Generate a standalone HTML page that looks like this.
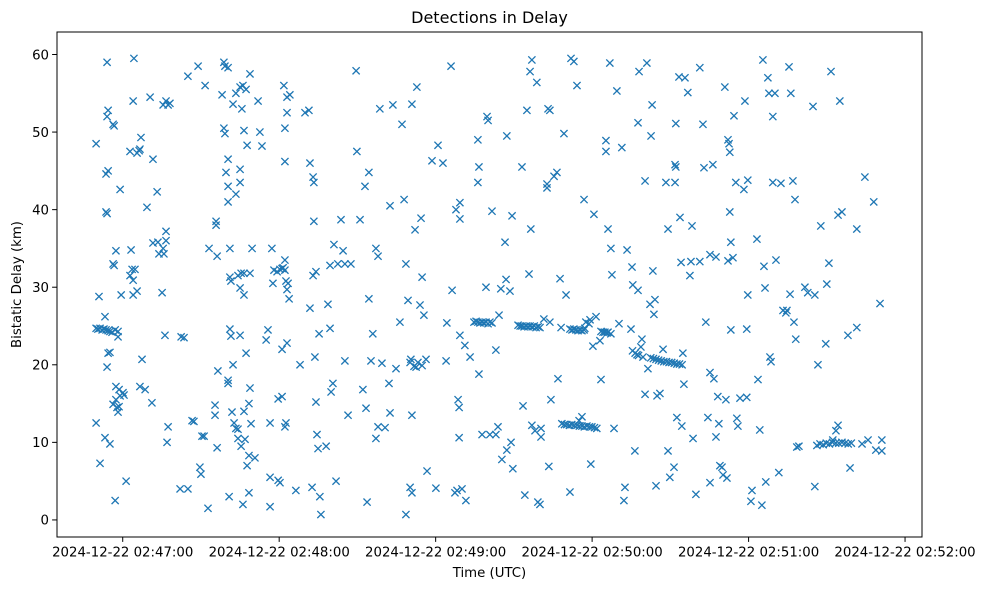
<!DOCTYPE html>
<html><head><meta charset="utf-8">
<style>
html,body{margin:0;padding:0;background:#fff;}
svg text{font-family:"DejaVu Sans","Liberation Sans",sans-serif;fill:#000;}
</style></head>
<body>
<svg id="chart" width="988" height="590" viewBox="0 0 988 590" xmlns="http://www.w3.org/2000/svg">
<rect width="988" height="590" fill="#fff"/>
<text x="489.5" y="23" font-size="16" text-anchor="middle">Detections in Delay</text>
<text x="489.5" y="577" font-size="13.3" text-anchor="middle">Time (UTC)</text>
<text x="21" y="284.5" font-size="13.3" text-anchor="middle" transform="rotate(-90 21 284.5)">Bistatic Delay (km)</text>
<g id="marks"></g>
<g id="axes"></g>
<rect x="57" y="32" width="865" height="505" fill="none" stroke="#000" stroke-width="1"/>
</svg>
<script>
// time in seconds after 2024-12-22 02:46:00 UTC
const timesSec = [
49.8,50.9,51.3,49.8,54.0,54.0,54.4,53.6,54.4,53.6,54.0,53.2,53.2,54.4,55.1,54.0,55.1,55.9,56.3,56.7,56.3,56.7,57.4,57.1,56.3,57.1,58.2,58.2,57.4,57.4,57.8,58.2,59.0,59.4,60.1,60.5,61.3,59.0,58.6,58.6,
49.8,50.5,51.3,52.1,52.8,53.6,54.4,55.1,
62.8,64.0,64.3,62.8,63.2,64.0,64.0,64.7,63.6,65.5,66.3,67.0,66.6,65.5,66.6,67.4,68.6,69.3,70.5,71.6,71.6,71.2,73.2,73.5,73.9,75.1,75.5,75.8,76.6,76.6,75.5,76.6,77.4,78.1,76.2,77.4,77.0,
82.0,82.4,83.5,85.0,85.0,86.6,87.3,88.9,89.6,90.4,91.2,90.0,91.6,92.7,93.1,95.4,95.4,95.8,95.8,96.2,96.5,96.2,98.1,98.8,99.2,100.4,98.8,99.2,100.4,100.4,100.8,100.4,99.6,100.4,100.4,101.1,101.5,101.1,101.1,101.5,102.3,101.9,103.4,104.2,102.7,
102.3,103.4,105.0,106.1,107.3,108.8,105.7,106.5,107.7,103.4,105.0,105.0,104.2,105.4,106.5,105.0,106.5,108.8,109.6,105.0,107.3,108.8,108.4,109.2,106.5,104.2,105.4,106.9,108.4,107.7,106.1,108.4,110.7,111.9,112.6,113.4,115.0,115.7,116.5,116.5,117.2,117.6,119.2,118.0,120.3,121.1,122.2,121.5,116.5,119.6,120.3,119.6,121.1,122.6,122.2,121.1,123.0,123.0,123.8,121.8,123.0,124.1,122.2,123.0,122.2,122.2,122.6,123.4,
126.4,128.0,129.9,131.4,131.8,133.0,133.3,131.8,133.0,134.1,133.3,132.6,133.7,134.1,134.5,136.0,135.6,135.3,134.9,138.0,138.7,139.5,139.5,141.0,139.9,140.6,141.8,142.5,144.5,145.2,143.7,145.2,146.4,147.5,149.5,149.8,151.0,152.1,152.9,153.3,153.7,154.4,154.4,155.2,155.9,157.1,157.1,157.9,157.9,158.6,159.4,160.6,162.1,162.5,162.5,163.6,164.8,166.3,167.1,167.9,168.6,168.6,169.4,170.2,170.5,170.9,170.9,170.2,170.9,171.7,172.8,172.1,172.5,173.2,174.0,174.4,174.8,174.8,175.5,176.3,176.7,178.6,180.1,180.9,182.8,184.0,184.3,
185.9,186.3,187.4,188.2,187.8,189.3,189.3,188.6,189.0,189.0,189.3,190.1,191.2,191.6,193.2,196.2,196.6,196.2,196.6,197.8,199.7,200.1,199.3,200.8,201.6,203.1,203.1,203.9,204.3,205.0,205.4,206.6,207.0,207.3,207.3,208.5,209.3,208.9,209.6,213.1,213.5,214.2,215.0,215.8,216.2,216.9,216.5,216.9,218.1,218.8,219.2,220.0,220.4,220.4,221.5,222.7,222.7,223.1,223.4,223.8,223.8,224.2,225.4,226.5,226.9,227.7,228.1,229.2,230.0,231.5,231.9,233.0,234.2,235.0,236.1,236.9,237.6,237.2,238.8,239.2,239.5,240.3,240.7,241.5,243.0,243.4,244.9,245.3,245.3,246.1,246.1,246.8,247.6,248.4,247.2,249.5,250.3,251.4,252.2,252.6,253.4,254.9,255.3,255.6,256.4,257.2,257.6,257.6,258.0,258.7,259.1,260.3,260.3,261.0,261.4,262.2,262.6,263.0,263.3,263.7,264.1,264.5,264.9,266.0,267.2,268.3,269.1,269.1,269.8,271.4,271.8,271.8,272.1,272.1,272.5,273.3,273.7,274.1,274.4,274.8,275.2,275.6,276.7,277.5,277.9,278.3,278.7,279.8,281.3,281.3,282.5,282.9,283.6,284.4,285.2,285.2,285.2,286.3,286.7,287.5,287.5,288.2,288.6,289.0,289.8,291.3,290.2,291.7,290.9,292.1,292.5,292.8,292.8,293.2,292.1,294.0,293.2,294.4,295.1,295.5,295.9,296.7,298.2,299.3,298.6,299.7,299.7,299.3,300.9,301.3,303.2,303.6,304.3,305.1,305.5,305.9,306.3,306.6,307.4,307.8,308.2,308.6,309.3,310.1,309.3,310.5,311.6,312.4,313.2,314.3,314.7,315.5,316.2,315.9,317.0,317.4,317.8,318.5,318.1,319.3,321.6,322.7,325.4,324.7,325.4,326.6,327.7,329.6,330.0,330.8,331.6,332.3,333.5,334.3,334.3,335.0,335.8,338.1,338.9,341.5,341.5,344.6,345.8,348.0,348.8,350.4,351.1,351.1,343.5,
194.7,195.5,196.2,197.0,197.8,198.5,199.3,200.1,200.8,201.6,
211.6,212.4,213.1,213.9,214.7,215.4,216.2,217.0,217.8,218.5,219.3,220.0,
228.4,229.4,230.3,231.3,232.2,233.2,234.2,235.1,236.1,237.0,238.0,239.0,239.9,240.9,241.8,
231.5,232.3,233.0,233.8,234.6,235.4,236.1,236.9,
243.4,244.2,245.7,247.2,
262.5,263.5,264.5,265.5,266.5,267.5,268.5,269.5,270.5,271.5,272.5,273.5,274.5,255.5,256.5,257.8,259.5,
326.2,327.4,328.6,329.8,331.0,332.2,333.4,334.6,335.8,337.0,338.2,339.4
];
const delaysKm = [
48.5,28.8,7.3,12.5,59,52,52.8,44.6,45,39.7,39.5,26.2,10.6,21.5,21.6,19.7,9.8,24.2,51,50.8,33,32.8,34.7,24.5,14.9,2.5,24.3,23.6,17.2,15.5,14.5,13.9,42.6,29,16.4,16.1,5,16,16.8,14.6,
24.7,24.6,24.7,24.5,24.6,24.5,24.4,24.3,
47.5,54,59.5,31.5,34.8,30.9,29,32.3,32.3,29.5,47.6,49.3,47.8,47.3,17.2,20.7,16.8,40.3,54.5,46.5,35.7,15.1,42.3,35.8,34.3,29.3,35,34.3,37.2,36,53.5,54,53.5,53.7,23.8,12,10,
4,23.6,23.5,4,57.2,12.8,12.7,58.5,6.8,10.8,10.8,5.9,56,1.5,35,14.8,13.5,38,38.5,34,19.2,9.3,54.8,59,58.5,58.3,50.5,49.8,18,17.6,3,46.5,44.8,43,41,31.3,30.8,35,24.6,23.7,20,13.9,11.8,10.5,12.5,
53.6,55,55.8,56,55.5,57.5,53,50.2,48.3,42,43.5,45.2,31.5,31.8,31.8,29.9,29,31.8,35,23.8,21.5,17,15,12.4,14,11.7,9.5,10.4,8.3,7,2,3.5,8,54,50,48.2,23.2,24.5,12.5,1.7,35,30.5,32,32.2,32.3,32.4,32.2,32.5,5.5,5.1,4.8,15.6,15.9,12.5,12,22,22.8,29.7,28.5,56,54.5,54.8,50.5,52.5,46.2,33.5,30.8,30.5,
3.8,20,52.5,52.8,46,44.2,43.5,27.3,31.5,32,38.5,4.2,21,15.2,11,0.7,3,24,9.2,9.5,27.8,24.7,32.8,35.5,16.5,17.6,5,33,34.7,20.5,38.7,33,13.5,33,57.9,47.5,38.7,16.8,43,14.4,2.3,28.5,44.8,20.5,24,35,10.5,12,34,53,20.2,11.9,17.6,40.5,13.8,53.5,19.5,25.5,51,41.3,0.7,33,28.3,20.3,20.7,53.6,13.5,4.2,3.5,19.8,55.8,37.4,19.7,20.3,27.7,38.9,31.3,19.9,26.4,20.7,6.3,46.3,4.1,48.3,46,20.5,25.4,
58.5,29.6,3.5,3.8,40,40.9,38.8,15.5,14.5,10.6,23.8,4,22.5,2.5,21,43.5,45.5,49,18.8,11,52,51.5,30,11,39.8,21.9,11,12,26.4,29.8,7.8,35.8,31,49.5,9,29.5,39.2,10,6.6,45.5,14.7,3.2,52.8,31.7,57.8,59.3,37.5,12.2,11.5,56.4,2.3,2,10.7,11.8,25.9,42.8,43.3,53,6.9,25.5,52.8,15.5,44.3,44.8,18.2,31.1,24.8,49.8,29,3.6,59.5,59.1,56,12.8,13.3,41.3,25.5,24.7,25.3,25.8,7.2,22.4,39.4,26.2,23.1,18.1,24.2,47.5,48.9,24.2,37.5,58.9,31.6,11.8,35,55.3,25.3,48,2.5,4.2,34.8,24.6,32.6,30.3,8.9,21.3,29.6,51.2,57.8,22.3,23.3,43.7,16.2,58.9,19.5,27.8,49.5,53.5,32.1,26.5,28.4,4.4,16,16.3,22,43.5,37.5,8.9,5.5,6.8,43.5,45.8,45.5,51.1,13.2,57.1,39,33.2,12.1,21.5,17.5,57,55.1,31.5,33.3,37.9,10.5,3.3,58.3,33.3,51,45.4,25.5,13.2,34.2,4.8,19,45.8,18.2,33.9,10.7,15.9,12.4,7,6.8,15.5,5.8,5.4,55.8,49,48.5,47.4,39.7,35.8,33.4,33.8,24.5,52.1,43.5,13.1,12.1,15.7,42.6,15.8,54,29,43.8,24.6,2.4,3.8,36.2,18.1,11.6,1.9,59.3,32.7,29.9,4.9,57,55,21,20.4,52,55,43.5,33.5,6.1,43.4,27,26.7,27,58.4,55,29.1,43.7,25.5,41.3,9.4,23.3,9.5,30,29.3,29,53.3,4.3,20,37.9,22.7,30.4,33.1,57.8,10.3,11.5,39.3,12.2,54,39.7,23.8,6.7,24.8,37.5,44.2,10.3,41,9,27.9,10.3,8.9,9.8,
25.5,25.6,25.5,25.4,25.5,25.4,25.5,25.3,25.5,25.4,
25.1,25.0,25.0,24.9,25.0,24.9,25.0,24.9,25.0,24.8,24.9,24.8,
12.4,12.3,12.3,12.2,12.3,12.2,12.2,12.1,12.1,12.0,12.1,12.0,12.0,11.9,11.8,
24.6,24.5,24.6,24.5,24.4,24.5,24.4,24.5,
24.3,24.2,24.1,24.0,
20.9,20.8,20.7,20.6,20.5,20.4,20.4,20.3,20.3,20.2,20.1,20.1,20.0,21.8,21.5,21.2,21.0,
9.6,9.8,9.7,9.9,9.8,10.0,9.9,9.9,10.0,9.9,9.8,9.9
];
const xTickSec = [60,120,180,240,300,360];
const xTickLabels = ["2024-12-22 02:47:00","2024-12-22 02:48:00","2024-12-22 02:49:00","2024-12-22 02:50:00","2024-12-22 02:51:00","2024-12-22 02:52:00"];
const yTicks = [0,10,20,30,40,50,60];

const NS = "http://www.w3.org/2000/svg";
const X0 = 57, X1 = 922, Y0 = 537, Y1 = 32;
const TMIN = 34.8, TMAX = 366.5, DMIN = -2.2, DMAX = 62.9;
function xScale(t){ return X0 + (t - TMIN) / (TMAX - TMIN) * (X1 - X0); }
function yScale(d){ return Y0 - (d - DMIN) / (DMAX - DMIN) * (Y0 - Y1); }

const marks = document.getElementById('marks');
const n = Math.min(timesSec.length, delaysKm.length);
for (let i = 0; i < n; i++) {
  const cx = xScale(timesSec[i]), cy = yScale(delaysKm[i]), r = 3.6;
  const p = document.createElementNS(NS, 'path');
  p.setAttribute('d', `M${cx-r},${cy-r}L${cx+r},${cy+r}M${cx-r},${cy+r}L${cx+r},${cy-r}`);
  p.setAttribute('stroke', '#1f77b4');
  p.setAttribute('stroke-width', '1.3');
  p.setAttribute('fill', 'none');
  
  
  marks.appendChild(p);
}

const axes = document.getElementById('axes');
xTickSec.forEach((t, i) => {
  const x = xScale(t);
  const l = document.createElementNS(NS, 'line');
  l.setAttribute('x1', x); l.setAttribute('x2', x);
  l.setAttribute('y1', Y0); l.setAttribute('y2', Y0 + 4.9);
  l.setAttribute('stroke', '#000');
  
  
  axes.appendChild(l);
  const tx = document.createElementNS(NS, 'text');
  tx.setAttribute('x', x); tx.setAttribute('y', Y0 + 19.5);
  tx.setAttribute('font-size', '13.3');
  tx.setAttribute('text-anchor', 'middle');
  tx.textContent = xTickLabels[i];
  
  
  axes.appendChild(tx);
});
yTicks.forEach(v => {
  const y = yScale(v);
  const l = document.createElementNS(NS, 'line');
  l.setAttribute('x1', X0 - 4.9); l.setAttribute('x2', X0);
  l.setAttribute('y1', y); l.setAttribute('y2', y);
  l.setAttribute('stroke', '#000');
  
  
  axes.appendChild(l);
  const tx = document.createElementNS(NS, 'text');
  tx.setAttribute('x', X0 - 8); tx.setAttribute('y', y + 4.8);
  tx.setAttribute('font-size', '13.3');
  tx.setAttribute('text-anchor', 'end');
  tx.textContent = String(v);
  
  
  axes.appendChild(tx);
});
</script>
</body></html>
